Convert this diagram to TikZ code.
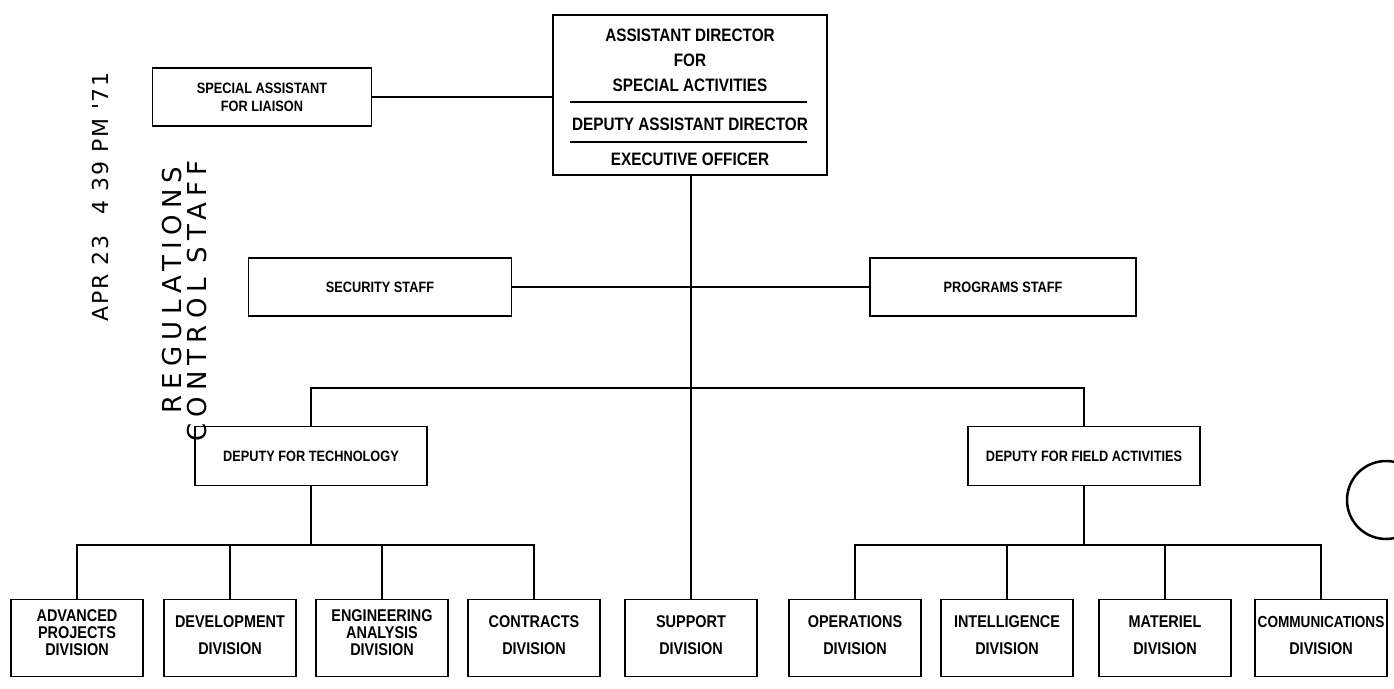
\documentclass[tikz,border=0pt]{standalone}
\usepackage{fontspec}
\newfontfamily\chartfont[FakeStretch=0.85]{Liberation Sans}
\newfontfamily\stampfont[LetterSpace=24]{DejaVu Sans}
\newfontfamily\datefont[LetterSpace=8]{DejaVu Sans}
\usetikzlibrary{positioning}

\begin{document}
\begin{tikzpicture}[x=1pt,y=-1pt,
      staffbox/.style={draw,line width=1.4pt,inner sep=0pt,align=center,
                  minimum height=58pt,font=\chartfont\bfseries\fontsize{15}{18}\selectfont},
      divbox/.style={draw,line width=1.4pt,inner sep=0pt,align=center,
                  minimum width=132pt,minimum height=77pt,font=\chartfont\bfseries\fontsize{17}{17}\selectfont},
      toptext/.style={inner sep=0pt,align=center,font=\chartfont\bfseries\fontsize{18}{25}\selectfont},
      stamp/.style={inner sep=0pt,rotate=90,font=\stampfont\fontsize{26}{26}\selectfont},
      conn/.style={line width=2pt},
      stem/.style={line width=1.3pt}
    ]
    \useasboundingbox (0,0) rectangle (1394,688);

    % head of the office
    \node[draw,line width=1.4pt,minimum width=274pt,minimum height=160pt] (asd) at (690,95) {};
    \node[toptext] (asdt) at (690,60) {ASSISTANT DIRECTOR\\FOR\\SPECIAL ACTIVITIES};
    \node[toptext] (dep) at (690,124) {DEPUTY ASSISTANT DIRECTOR};
    \node[toptext] (exo) at (690,159) {EXECUTIVE OFFICER};
    \draw[line width=1.2pt] (570,102) -- (807,102);
    \draw[line width=1.2pt] (570,142) -- (807,142);

    \node[staffbox,minimum width=219pt] (liaison) at (262,97) {SPECIAL ASSISTANT\\FOR LIAISON};
    \node[staffbox,minimum width=263pt] (sec) at (380,287) {SECURITY STAFF};
    \node[staffbox,minimum width=266pt] (prog) at (1003,287) {PROGRAMS STAFF};
    \node[staffbox,minimum width=232pt,minimum height=59pt] (dtech) at (311,456) {DEPUTY FOR TECHNOLOGY};
    \node[staffbox,minimum width=232pt,minimum height=59pt] (dfield) at (1084,456) {DEPUTY FOR FIELD ACTIVITIES};

    % divisions
    \node[divbox] (adv) at (77,638) {ADVANCED\\PROJECTS\\DIVISION\\[-7pt]};
    \node[divbox] (dev) at (230,638) {DEVELOPMENT\\[10pt]DIVISION\\[-12pt]};
    \node[divbox] (eng) at (382,638) {ENGINEERING\\ANALYSIS\\DIVISION\\[-7pt]};
    \node[divbox] (con) at (534,638) {CONTRACTS\\[10pt]DIVISION\\[-12pt]};
    \node[divbox] (sup) at (691,638) {SUPPORT\\[10pt]DIVISION\\[-12pt]};
    \node[divbox] (ops) at (855,638) {OPERATIONS\\[10pt]DIVISION\\[-12pt]};
    \node[divbox] (intl) at (1007,638) {INTELLIGENCE\\[10pt]DIVISION\\[-12pt]};
    \node[divbox] (mat) at (1165,638) {MATERIEL\\[10pt]DIVISION\\[-12pt]};
    \node[divbox] (com) at (1321,638) {{\fontsize{16}{17}\selectfont COMMUNICATIONS}\\[10pt]DIVISION\\[-12pt]};

    % connectors
    \draw[conn] (liaison.east) -- (liaison.east -| asd.west);
    \draw[stem] (asd.south -| sup.north) -- (sup.north);
    \draw[conn] (sec.east) -- (prog.west);
    \coordinate (depbar) at (691,388);
    \draw[conn] (dtech.north) |- (depbar) -| (dfield.north);
    \coordinate (techbar) at (311,545);
    \coordinate (fieldbar) at (1084,545);
    \draw[stem] (dtech.south) -- (techbar);
    \draw[stem] (dfield.south) -- (fieldbar);
    \foreach \d in {adv,dev,eng,con} \draw[conn] (techbar) -| (\d.north);
    \foreach \d in {ops,intl,mat,com} \draw[conn] (fieldbar) -| (\d.north);

    % receipt stamp
    \node[stamp,font=\datefont\fontsize{22}{22}\selectfont] (date) at (100,197) {APR 23\quad 4 39 PM '71};
    \node[stamp] (regs) at (172,290) {REGULATIONS};
    \node[stamp] (ctrl) at (197,301) {CONTROL STAFF};

    % punch hole at the edge
    \draw[line width=2.5pt] (1386,500) ++(-75:39) arc[start angle=-75,end angle=-285,radius=39];
  \end{tikzpicture}
\end{document}
